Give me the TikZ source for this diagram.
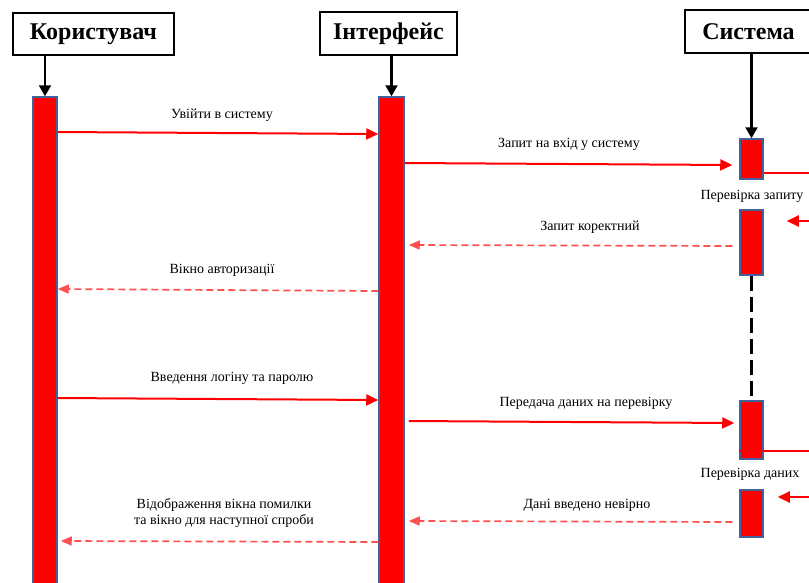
\documentclass[tikz,border=0pt]{standalone}
\usepackage{fontspec}
\setmainfont{Liberation Serif}
\usetikzlibrary{arrows.meta}
\definecolor{barframe}{RGB}{66,98,158}
\definecolor{replyred}{RGB}{255,80,80}
\begin{document}
\begin{tikzpicture}[x=1pt,y=-1pt,
  actor/.style={draw=black, line width=2.2pt, fill=white, inner sep=0pt,
    font=\fontsize{24}{27}\selectfont\bfseries},
  bar/.style={draw=barframe, fill=red, line width=1.5pt, inner sep=0pt},
  call/.style={draw=red, line width=2pt, -{Triangle[length=12pt,width=11pt]}},
  reply/.style={draw=replyred, line width=1.7pt, dash pattern=on 7pt off 4pt,
    -{Triangle[length=11pt,width=9pt]}},
  life/.style={draw=black, line width=2.2pt},
  lbl/.style={font=\fontsize{14}{16}\selectfont, inner sep=0pt, align=center},
]
\useasboundingbox (0,0) rectangle (809,582);
\clip (0,0) rectangle (809,582);

% participants
\node[actor, minimum width=161pt, minimum height=42pt] (user) at (93.5,34) {Користувач};
\node[actor, minimum width=137pt, minimum height=43pt] (iface) at (388.5,33.5) {Інтерфейс};
\node[actor, minimum width=127pt, minimum height=43pt] (sys) at (748.5,31.5) {Система};

% activation bars
\node[bar, minimum width=24pt, minimum height=493pt] (u1) at (45,343.5) {};
\node[bar, minimum width=25pt, minimum height=493pt] (i1) at (391.5,343.5) {};
\node[bar, minimum width=23pt, minimum height=40pt] (s1) at (751.5,159) {};
\node[bar, minimum width=23pt, minimum height=65pt] (s2) at (751.5,242.5) {};
\node[bar, minimum width=23pt, minimum height=58pt] (s3) at (751.5,430) {};
\node[bar, minimum width=23pt, minimum height=47pt] (s4) at (751.5,513.5) {};

% lifelines
\draw[life, -{Triangle[length=11pt,width=12pt]}] (user.south -| u1) -- (u1.north);
\draw[life, -{Triangle[length=11pt,width=12pt]}] (iface.south -| i1) -- (i1.north);
\draw[life, -{Triangle[length=11pt,width=12pt]}] (sys.south -| s1) -- (s1.north);
\draw[life, dash pattern=on 15pt off 6pt] (s2.south) -- (s3.north);

% messages
\draw[call] (u1.east |- 0,132) -- (i1.west |- 0,134);
\draw[call] (i1.east |- 0,163) -- ([xshift=-7pt]s1.west |- 0,165);
\draw[call] (s1.east |- 0,173) -- (816,173) -- (816,221) -- ([xshift=23pt]s2.east |- 0,221);
\draw[reply] ([xshift=-7pt]s2.west |- 0,246) -- ([xshift=4pt]i1.east |- 0,245);
\draw[reply] (i1.west |- 0,291) -- (u1.east |- 0,289);
\draw[call] (u1.east |- 0,398) -- (i1.west |- 0,400);
\draw[call] ([xshift=4pt]i1.east |- 0,421) -- ([xshift=-5pt]s3.west |- 0,423);
\draw[call] (s3.west |- 0,451) -- (816,451) -- (816,497) -- ([xshift=14pt]s4.east |- 0,497);
\draw[reply] ([xshift=-7pt]s4.west |- 0,522) -- ([xshift=4pt]i1.east |- 0,521);
\draw[reply] (i1.west |- 0,542) -- ([xshift=3pt]u1.east |- 0,541);

% message labels
\node[lbl] (t1) at (222,115) {Увійти в систему};
\node[lbl] (t2) at (569,144) {Запит на вхід у систему};
\node[lbl] (t3) at (752,196) {Перевірка запиту};
\node[lbl] (t4) at (590,227) {Запит коректний};
\node[lbl] (t5) at (222,270) {Вікно авторизації};
\node[lbl] (t6) at (232,378) {Введення логіну та паролю};
\node[lbl] (t7) at (586,403) {Передача даних на перевірку};
\node[lbl] (t8) at (750,474) {Перевірка даних};
\node[lbl] (t9) at (587,505) {Дані введено невірно};
\node[lbl] (t10) at (224,513) {Відображення вікна помилки\\та вікно для наступної спроби};
\end{tikzpicture}
\end{document}
